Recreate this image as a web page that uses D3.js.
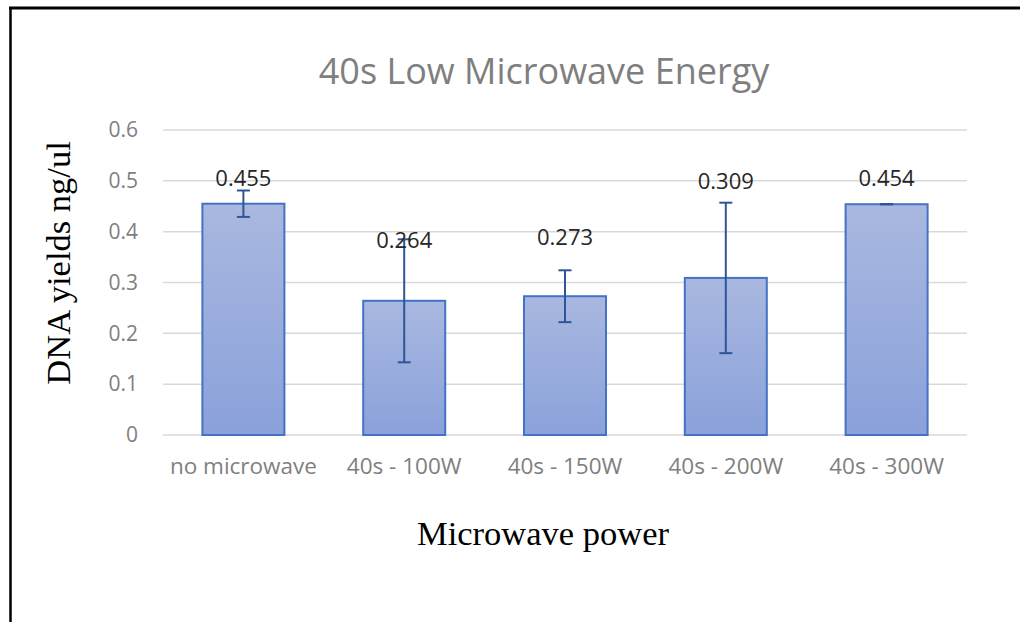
<!DOCTYPE html>
<html>
<head>
<meta charset="utf-8">
<script src="https://cdn.jsdelivr.net/npm/d3@7"></script>
<style>
  body { margin: 0; background: #fff; }
  svg { display: block; }
</style>
</head>
<body>
<div id="chart"></div>
<script>
// bar categories and values
var categories = ["no microwave", "40s - 100W", "40s - 150W", "40s - 200W", "40s - 300W"];
var yields = [0.455, 0.264, 0.273, 0.309, 0.454];
var errors = [0.026, 0.121, 0.051, 0.148, 0.0];
var valueLabels = ["0.455", "0.264", "0.273", "0.309", "0.454"];
// where the data labels sit, in data units (baseline)
var labelAt = [0.490, 0.368, 0.374, 0.484, 0.490];
var yTicks = [0, 0.1, 0.2, 0.3, 0.4, 0.5, 0.6];

const width = 1020;
const height = 622;

var svg = d3.select("#chart")
  .append("svg")
  .attr("width", width)
  .attr("height", height);

// gradient for the bars
var grad = svg.append("defs")
  .append("linearGradient")
  .attr("id", "barFill")
  .attr("x1", 0).attr("y1", 0)
  .attr("x2", 0).attr("y2", 1);
grad.append("stop").attr("offset", "0%").attr("stop-color", "#a9b8e0");
grad.append("stop").attr("offset", "100%").attr("stop-color", "#8aa1da");

// frame (top and left edge only)
svg.append("line")
  .attr("x1", 9).attr("x2", width)
  .attr("y1", 8).attr("y2", 8)
  .attr("stroke", "#000").attr("stroke-width", 3);
svg.append("line")
  .attr("x1", 10.5).attr("x2", 10.5)
  .attr("y1", 7).attr("y2", height)
  .attr("stroke", "#000").attr("stroke-width", 2.5);

// scales
var x = d3.scaleBand()
  .domain(categories)
  .range([163, 967])
  .paddingInner(0.49)
  .paddingOuter(0.245);

var y = d3.scaleLinear()
  .domain([0, 0.6])
  .range([435, 130]);

// gridlines
svg.append("g")
  .selectAll("line")
  .data(yTicks)
  .enter().append("line")
  .attr("x1", 163).attr("x2", 967)
  .attr("y1", function (d) { return y(d); })
  .attr("y2", function (d) { return y(d); })
  .attr("stroke", "#d9d9d9")
  .attr("stroke-width", 1.5);

// y axis tick labels
var yAxis = svg.append("g")
  .attr("transform", "translate(138,0)")
  .call(d3.axisLeft(y).tickValues(yTicks).tickSize(0).tickPadding(0)
    .tickFormat(function (d) { return d === 0 ? "0" : d3.format(".1f")(d); }));
yAxis.select(".domain").remove();
yAxis.selectAll("text")
  .attr("fill", "#7f7f7f")
  .style("font-family", "'Open Sans', sans-serif")
  .style("font-size", "21px");

// x axis tick labels
var xAxis = svg.append("g")
  .attr("transform", "translate(0,435)")
  .call(d3.axisBottom(x).tickSize(0).tickPadding(23));
xAxis.select(".domain").remove();
xAxis.selectAll("text")
  .attr("fill", "#7f7f7f")
  .style("font-family", "'Open Sans', sans-serif")
  .style("font-size", "22.5px");

// bars
svg.append("g")
  .selectAll("rect")
  .data(yields)
  .enter().append("rect")
  .attr("x", function (d, i) { return x(categories[i]); })
  .attr("y", function (d) { return y(d); })
  .attr("width", x.bandwidth())
  .attr("height", function (d) { return y(0) - y(d); })
  .attr("fill", "url(#barFill)")
  .attr("stroke", "#4472c4")
  .attr("stroke-width", 2);

// error bars
var errG = svg.append("g")
  .attr("stroke", "#2f5597")
  .attr("stroke-width", 2);
yields.forEach(function (v, i) {
  var cx = x(categories[i]) + x.bandwidth() / 2;
  var top = y(v + errors[i]);
  var bot = y(v - errors[i]);
  errG.append("line").attr("x1", cx).attr("x2", cx).attr("y1", top).attr("y2", bot);
  errG.append("line").attr("x1", cx - 6.5).attr("x2", cx + 6.5).attr("y1", top).attr("y2", top);
  errG.append("line").attr("x1", cx - 6.5).attr("x2", cx + 6.5).attr("y1", bot).attr("y2", bot);
});

// data labels
svg.append("g")
  .selectAll("text")
  .data(valueLabels)
  .enter().append("text")
  .attr("x", function (d, i) { return x(categories[i]) + x.bandwidth() / 2; })
  .attr("y", function (d, i) { return y(labelAt[i]); })
  .attr("text-anchor", "middle")
  .attr("fill", "#262626")
  .style("font-family", "'Open Sans', sans-serif")
  .style("font-size", "22px")
  .text(function (d) { return d; });

// title
svg.append("text")
  .attr("x", 544)
  .attr("y", 84)
  .attr("text-anchor", "middle")
  .attr("fill", "#7f7f7f")
  .style("font-family", "'Open Sans', sans-serif")
  .style("font-size", "36px")
  .text("40s Low Microwave Energy");

// axis titles
svg.append("text")
  .attr("transform", "translate(70,263) rotate(-90)")
  .attr("text-anchor", "middle")
  .attr("fill", "#000")
  .style("font-family", "'Liberation Serif', serif")
  .style("font-size", "34.5px")
  .text("DNA yields ng/ul");

svg.append("text")
  .attr("x", 543)
  .attr("y", 545)
  .attr("text-anchor", "middle")
  .attr("fill", "#000")
  .style("font-family", "'Liberation Serif', serif")
  .style("font-size", "34.5px")
  .text("Microwave power");
</script>
</body>
</html>
